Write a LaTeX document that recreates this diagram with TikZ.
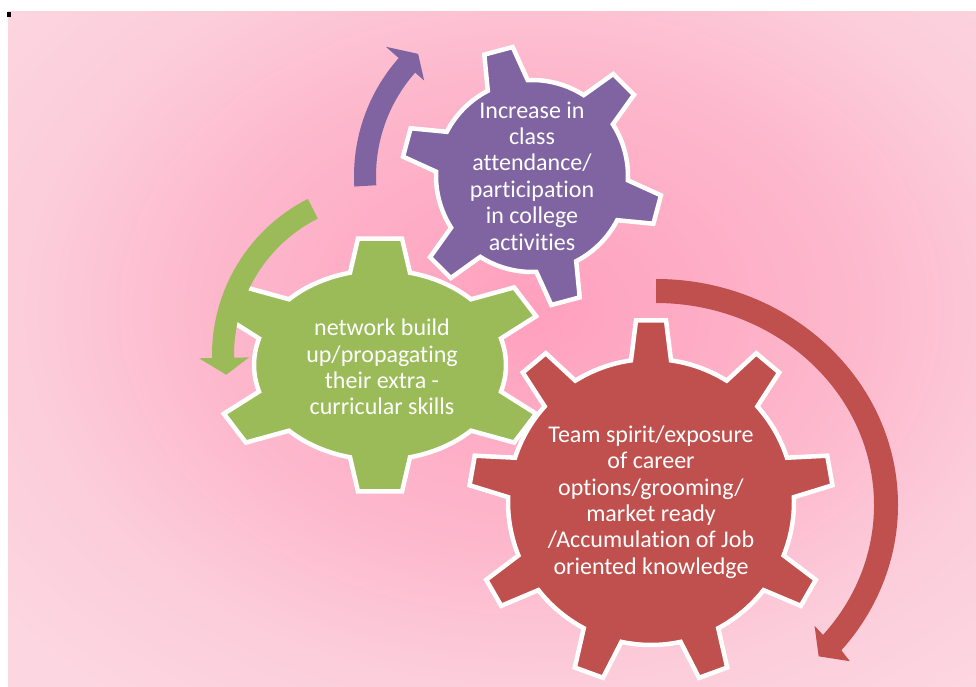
\documentclass[tikz,border=0pt]{standalone}
\usepackage{fontspec}
\setmainfont[Ligatures=NoCommon]{Carlito}
\definecolor{pkA}{RGB}{255,160,190}
\definecolor{pkB}{RGB}{253,184,204}
\definecolor{pkC}{RGB}{252,204,218}
\definecolor{pkD}{RGB}{252,214,225}
\definecolor{gred}{RGB}{192,80,77}
\definecolor{ggreen}{RGB}{155,187,89}
\definecolor{gpurple}{RGB}{128,100,162}
\pgfdeclareradialshading{bgpink}{\pgfpoint{0bp}{0bp}}{color(0bp)=(pkA); color(15bp)=(pkB); color(23bp)=(pkC); color(31bp)=(pkD); color(50bp)=(pkD)}
% #1 style, #2 teeth, #3 first tooth angle, #4 tip radius, #5 tip half width, #6 base half width
\newcommand{\GearShape}[6]{%
  \pgfmathsetmacro{\gstep}{360/#2}%
  \pgfmathsetmacro{\gbeta}{asin(#6)}%
  \pgfmathsetmacro{\galpha}{atan(#5/#4)}%
  \pgfmathsetmacro{\grho}{sqrt(#4*#4+#5*#5)}%
  \path[#1] ({#3-\gbeta}:1)
    \foreach \k in {1,...,#2}{
      -- ({#3+(\k-1)*\gstep-\galpha}:\grho)
      -- ({#3+(\k-1)*\gstep+\galpha}:\grho)
      -- ({#3+(\k-1)*\gstep+\gbeta}:1)
      arc[start angle={#3+(\k-1)*\gstep+\gbeta}, end angle={#3+\k*\gstep-\gbeta}, radius=1]
    } -- cycle;%
}
\begin{document}
\begin{tikzpicture}[x=1pt,y=-1pt,
  gearline/.style={draw=white, line width=4.5pt, line join=miter},
  txt/.style={text=white, align=center, inner sep=0pt, font=\fontsize{24}{26.4}\selectfont}]
\useasboundingbox (0,0) rectangle (976,687);
\fill[white] (0,0) rectangle (976,687);
\begin{scope}
  \clip (8,12) rectangle (976,687);
  \shade[shading=bgpink] (-10,-90) rectangle (1070,710);
\end{scope}
\fill[black] (7,12) rectangle (11,17);
% gears
\begin{scope}[shift={(651,502)}, scale=143]
  \GearShape{fill=gred, gearline}{9}{-90}{1.27}{0.105}{0.14}
\end{scope}
\begin{scope}[shift={(380,365)}, xscale=126, yscale=95]
  \GearShape{fill=ggreen, gearline}{6}{-90}{1.33}{0.175}{0.238}
\end{scope}
\begin{scope}[shift={(532,176)}, scale=96]
  \GearShape{fill=gpurple, gearline}{6}{-105}{1.35}{0.153}{0.215}
\end{scope}
% arrows
\fill[gpurple, shift={(532,176)}] (-183.4:178) arc[start angle=-183.4, end angle=-138.5, radius=178]
  -- (-138.5:195) -- (-133:167) -- (-138.5:144) -- (-138.5:156)
  arc[start angle=-138.5, end angle=-183.4, radius=156] -- cycle;
\fill[ggreen, shift={(387,355)}] (-116.9:175) arc[start angle=-116.9, end angle=-181, radius=175]
  -- (-181:188) -- (-187:162) -- (-181:138) -- (-181:153)
  arc[start angle=-181, end angle=-116.9, radius=153] -- cycle;
\fill[gred, shift={(656,505)}] (0,-226) arc[start angle=-90, end angle=40, x radius=242, y radius=226]
  -- ({253*cos(40)},{243*sin(40)}) -- ({230*cos(45)},{214*sin(45)}) -- ({207*cos(40)},{188*sin(40)})
  -- ({218*cos(40)},{202*sin(40)})
  arc[start angle=40, end angle=-90, x radius=218, y radius=202] -- cycle;
% texts
\node[txt] (tpurple) at (532,176) {Increase in\\class\\attendance/\\participation\\in college\\activities};
\node[txt] (tgreen) at (382,367) {network build\\up/propagating\\their extra -\\curricular skills};
\node[txt] (tred) at (651,502) {Team spirit/exposure\\of career\\options/grooming/\\market ready\\/Accumulation of Job\\oriented knowledge};
\end{tikzpicture}
\end{document}
